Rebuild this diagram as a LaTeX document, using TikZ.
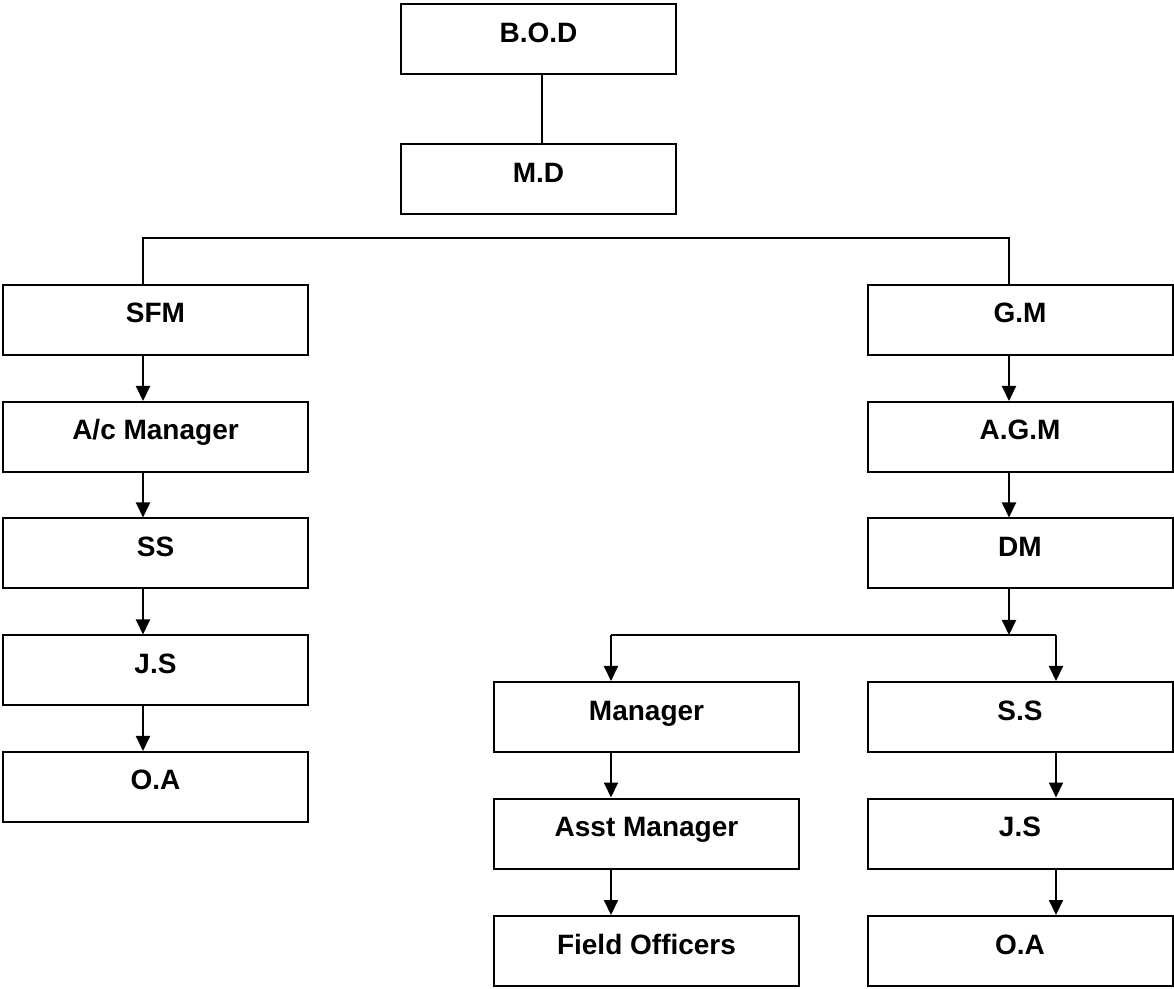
\documentclass[tikz,border=0pt]{standalone}
\usepackage{fontspec}
\setmainfont{Liberation Sans}
\usetikzlibrary{arrows.meta}

\begin{document}
\begin{tikzpicture}[x=0.5pt, y=-0.5pt, line width=1pt,
    >={Triangle[length=7.5pt,width=7pt]},
    post/.style={draw, rectangle, inner sep=0pt, minimum width=152.5pt,
      minimum height=35pt, font=\fontsize{14}{16}\selectfont\bfseries,
      text height=10pt, text depth=7pt}]
  \useasboundingbox (0,0) rectangle (1174,989);
  \path node (BOD) at (538.5, 39.5) [post, minimum width=137.5pt] {B.O.D}
        node (MD)  at (538.5,179.5) [post, minimum width=137.5pt] {M.D}
        %
        node (SFM) at (155.5,320)   [post] {SFM}
        node (AcM) at (155.5,437)   [post] {A/c Manager}
        node (SS1) at (155.5,553.5) [post] {SS}
        node (JS1) at (155.5,670.5) [post] {J.S}
        node (OA1) at (155.5,787)   [post] {O.A}
        %
        node (GM)  at (1020,320)    [post] {G.M}
        node (AGM) at (1020,437)    [post] {A.G.M}
        node (DM)  at (1020,553.5)  [post] {DM}
        %
        node (Mgr) at (646.5,717)   [post] {Manager}
        node (AMg) at (646.5,833.5) [post] {Asst Manager}
        node (FO)  at (646.5,951)   [post] {Field Officers}
        %
        node (SS2) at (1020,717)    [post] {S.S}
        node (JS2) at (1020,833.5)  [post] {J.S}
        node (OA2) at (1020,951)    [post] {O.A}
        %
        coordinate (colT) at (542,0)
        coordinate (colL) at (143,0)
        coordinate (colR) at (1009,0)
        coordinate (colM) at (611,0)
        coordinate (colS) at (1056,0)
        coordinate (bar)  at (0,238)
        coordinate (fork) at (0,635);
  \draw (BOD.south -| colT) -- (MD.north -| colT)
        %
        (SFM.north -| colL) |- (bar -| colR) -- (GM.north -| colR)
        %
        (SFM.south -| colL) edge [->] (AcM.north -| colL)
        (AcM.south -| colL) edge [->] (SS1.north -| colL)
        (SS1.south -| colL) edge [->] (JS1.north -| colL)
        (JS1.south -| colL) edge [->] (OA1.north -| colL)
        %
        (GM.south -| colR)  edge [->] (AGM.north -| colR)
        (AGM.south -| colR) edge [->] (DM.north -| colR)
        (DM.south -| colR)  edge [->] (fork -| colR)
        %
        (fork -| colM) -- (fork -| colS)
        (fork -| colM) edge [->] (Mgr.north -| colM)
        (fork -| colS) edge [->] (SS2.north -| colS)
        %
        (Mgr.south -| colM) edge [->] (AMg.north -| colM)
        (AMg.south -| colM) edge [->] (FO.north -| colM)
        (SS2.south -| colS) edge [->] (JS2.north -| colS)
        (JS2.south -| colS) edge [->] (OA2.north -| colS);
\end{tikzpicture}
\end{document}
